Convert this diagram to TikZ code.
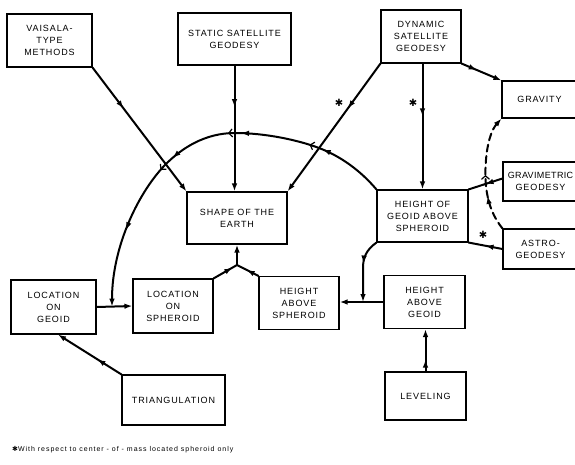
\documentclass[tikz,border=0pt]{standalone}
\usepackage{fontspec}
\setmainfont{Liberation Sans}
\newfontfamily\labelfont[LetterSpace=10]{Liberation Sans}
\newfontfamily\tightfont[LetterSpace=4]{Liberation Sans}
\newfontfamily\notefont[LetterSpace=14]{Liberation Sans}
\newfontfamily\symfont{DejaVu Sans}
\usetikzlibrary{arrows.meta,decorations.markings,calc}

\begin{document}
\begin{tikzpicture}[x=1pt,y=-1pt,
  solidtip/.tip={Latex[length=8pt,width=5.6pt]},
  opentip/.tip={Straight Barb[length=3.5pt,width=8pt,line width=1.2pt]},
  box/.style={draw, line width=1.1pt, inner sep=0pt, align=center,
    font=\labelfont\fontsize{9}{12}\selectfont},
  link/.style={line width=2pt, line cap=round},
  toarrow/.style={link, -{solidtip}},
  midarrow/.style={postaction={decorate}, decoration={markings,
    mark=at position #1 with {\arrow{solidtip}}}},
  dashlink/.style={link, dash pattern=on 7pt off 4.5pt},
  star/.style={font=\symfont\fontsize{10}{10}\selectfont, inner sep=0pt}
]
\useasboundingbox (0,0) rectangle (575,465);
\fill[white] (0,0) rectangle (575,465);
\clip (0,0) rectangle (575,465);

% ---- boxes ----
\node[box, minimum width=85pt, minimum height=53pt] (vais) at (49.5,40.5) {VAISALA-\\TYPE\\METHODS};
\node[box, minimum width=113pt, minimum height=52pt] (stat) at (234.5,39) {STATIC SATELLITE\\GEODESY};
\node[box, minimum width=80pt, minimum height=53pt] (dyn) at (421,36.5) {DYNAMIC\\SATELLITE\\GEODESY};
\node[box, minimum width=75pt, minimum height=37pt] (grav) at (539.5,99.5) {GRAVITY};
\node[box, minimum width=100pt, minimum height=52pt] (shape) at (237,218) {SHAPE OF THE\\EARTH};
\node[box, minimum width=91pt, minimum height=52pt] (hgeo) at (422.5,216) {HEIGHT OF\\GEOID ABOVE\\SPHEROID};
\node[box, minimum width=75pt, minimum height=39pt] (gravim) at (540.5,181.5) {{\tightfont GRAVIMETRIC}\\GEODESY};
\node[box, minimum width=75pt, minimum height=40pt] (astro) at (540.5,249) {ASTRO-\\GEODESY};
\node[box, minimum width=85pt, minimum height=54pt] (locg) at (53.5,307) {LOCATION\\ON\\GEOID};
\node[box, minimum width=80pt, minimum height=54pt] (locs) at (173,306) {LOCATION\\ON\\SPHEROID};
\node[box, minimum width=80pt, minimum height=53pt] (has) at (299,303) {HEIGHT\\ABOVE\\SPHEROID};
\node[box, minimum width=81pt, minimum height=53pt] (hag) at (424.5,302) {HEIGHT\\ABOVE\\GEOID};
\node[box, minimum width=103pt, minimum height=50pt] (tri) at (173.5,400) {TRIANGULATION};
\node[box, minimum width=81pt, minimum height=48pt] (lev) at (425.5,396) {LEVELING};

% ---- straight connectors into the shape of the earth ----
\draw[toarrow, midarrow=0.33] (vais.south east) -- (shape.north west);
\draw[toarrow, midarrow=0.33] (stat.south) -- (stat.south |- shape.north);
\draw[toarrow, midarrow=0.35] (dyn.south west) -- (shape.north east);
\draw[toarrow, midarrow=0.42] (hgeo.north |- dyn.south) -- (hgeo.north);
\draw[toarrow, midarrow=0.38] (dyn.south east) -- (grav.north west);

\node[star] (s1) at (339,103) {✱};
\node[star] (s2) at (413,103) {✱};
\node[star] (s3) at (483,235) {✱};

% ---- gravimetric and astro-geodesy feed the geoid height ----
\draw[link, midarrow=0.5] ([yshift=3pt]gravim.west) -- (hgeo.north east);
\draw[link, midarrow=0.5] (astro.west) -- (hgeo.south east);

% ---- dashed link from astro-geodesy up to gravity ----
\coordinate (dx) at (486,186);
\draw[dashlink, postaction={decorate}, decoration={markings,
    mark=at position -10pt with {\arrow{solidtip}}}]
  (astro.north west) .. controls (494,218) and (488,205) .. (dx);
\draw[dashlink, -{solidtip}, postaction={decorate}, decoration={markings,
    mark=at position 11pt with {\arrow{opentip}}}]
  (dx) .. controls (484,165) and (487,135) .. (grav.south west);

% ---- the long arc from the geoid height round to the location line ----
\coordinate (x1) at (319,148);
\coordinate (x2) at (235,133);
\coordinate (x3) at (166,164);
\coordinate (gs) at ($(locg.east)!0.43!(locs.west)$);
\draw[link, postaction={decorate}, decoration={markings,
    mark=at position -4pt with {\arrow{solidtip}}}]
  (hgeo.north west) .. controls (360,170) and (340,156) .. (x1);
\draw[link, postaction={decorate}, decoration={markings,
    mark=at position 10pt with {\arrow{opentip}},
    mark=at position -6pt with {\arrow{solidtip}}}]
  (x1) .. controls (298,140) and (265,133) .. (x2);
\draw[link, postaction={decorate}, decoration={markings,
    mark=at position 7pt with {\arrow{opentip}},
    mark=at position -9pt with {\arrow{solidtip}}}]
  (x2) .. controls (205,133) and (182,148) .. (x3);
\draw[link, -{solidtip}, postaction={decorate}, decoration={markings,
    mark=at position 8pt with {\arrow{opentip}},
    mark=at position 0.5 with {\arrow{solidtip}}}]
  (x3) .. controls (140,190) and (112,245) .. (gs);

% ---- lower row ----
\draw[toarrow] (locg.east) -- (locs.west);
\coordinate (j) at (237,265);
\draw[link, midarrow=0.8] (locs.north east) -- (j);
\draw[link, midarrow=0.55] (has.north west) -- (j);
\draw[toarrow] (j) -- (shape.south);

\draw[toarrow] (hag.west) -- (has.east |- hag.west);
\coordinate (hj) at (363,302);
\draw[toarrow, midarrow=0.4] (hgeo.south west) .. controls (366,250) and (363,258) .. (363,268) -- (hj);

\draw[toarrow, midarrow=0.38] (tri.north west) -- ([xshift=4.5pt]locg.south);
\draw[toarrow, midarrow=0.28] (lev.north) -- (lev.north |- hag.south);

% ---- footnote ----
\node[anchor=west, inner sep=0pt, font=\notefont\fontsize{7}{8}\selectfont] (note) at (12,450)
  {{\symfont ✱}With respect to center - of - mass located spheroid only};
\end{tikzpicture}
\end{document}
